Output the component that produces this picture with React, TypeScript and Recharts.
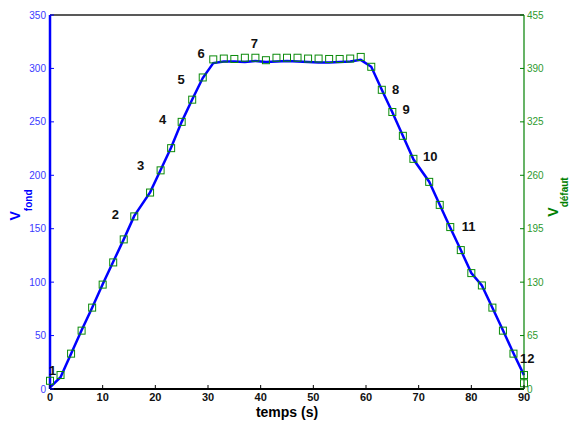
import { ComposedChart, Line, Scatter, XAxis, YAxis, ReferenceDot, Label } from 'recharts'

const fondTimes = [0, 2, 4, 6, 8, 10, 12, 14, 16, 19, 21, 23, 25, 27, 29, 31, 33, 35, 37, 39, 41, 43, 45, 47, 49, 51, 53, 55, 57, 59, 61, 63, 65, 67, 69, 72, 74, 76, 78, 80, 82, 84, 86, 88, 90]
const fondValues = [1.6, 11, 33, 55, 76, 98, 119, 140, 162, 184, 205, 226, 250, 271, 291, 305, 306.5, 306.5, 306, 307, 306, 306.5, 307, 306.5, 306, 305.5, 305.5, 306, 306.5, 308, 301.5, 280, 259, 237, 215, 194, 172.5, 151, 130, 108.5, 97, 76, 55, 33.5, 13]

const defautTimes = [...fondTimes, 90]
const defautValues = [10, 17, 43, 71, 99, 127, 154, 182, 210, 239, 266, 293, 325, 352, 379, 401, 402, 401.5, 403, 403, 400, 403, 403, 403, 402, 402, 401.5, 401.5, 402, 404, 392, 364, 337, 308, 280, 252, 224, 197, 169, 141, 126, 99, 71, 43, 17, 7]

const labelTexts = ['1', '2', '3', '4', '5', '6', '7', '8', '9', '10', '11', '12']
const labelTimes = [0.5, 12.4, 17.2, 21.4, 24.9, 28.7, 38.8, 65.6, 67.6, 72.2, 79.5, 90.6]
const labelValues = [17, 163, 209, 252, 290, 314, 323.5, 280, 261.5, 217.5, 152.5, 28.5]

const xTicks = [0, 10, 20, 30, 40, 50, 60, 70, 80, 90]
const leftTicks = [0, 50, 100, 150, 200, 250, 300, 350]
const rightTicks = [0, 65, 130, 195, 260, 325, 390, 455]

const fondRows = fondTimes.map((t, i) => ({ t, fond: fondValues[i] }))
const defautRows = defautTimes.map((t, i) => ({ t, defaut: defautValues[i] }))

const FONT = '"Liberation Sans", Arial, sans-serif'
const BLUE = '#0000ff'
const GREEN = '#008000'

function BottomTick(props: any) {
  const { x, y, payload } = props
  return (
    <g>
      <line x1={x} x2={x} y1={y} y2={y - 4} stroke="#000" strokeWidth={1} />
      <text x={x} y={y + 12} textAnchor="middle" fontSize={11} fontWeight={700} fill="#111" fontFamily={FONT}>
        {payload.value}
      </text>
    </g>
  )
}

function TopTick(props: any) {
  const { x, y } = props
  return <line x1={x} x2={x} y1={y} y2={y + 4} stroke="#000" strokeWidth={1} />
}

function LeftTick(props: any) {
  const { x, y, payload } = props
  return (
    <g>
      <line x1={x} x2={x + 4} y1={y} y2={y} stroke={BLUE} strokeWidth={1} />
      <text x={x - 4} y={y + 3.5} textAnchor="end" fontSize={10} fill="#3a3aff" fontFamily={FONT}>
        {payload.value}
      </text>
    </g>
  )
}

function RightTick(props: any) {
  const { x, y, payload } = props
  return (
    <g>
      <line x1={x} x2={x - 4} y1={y} y2={y} stroke={GREEN} strokeWidth={1} />
      <text x={x + 3} y={y + 3.5} textAnchor="start" fontSize={10} fill="#2e9a2e" fontFamily={FONT}>
        {payload.value}
      </text>
    </g>
  )
}

function Square(props: any) {
  const { cx, cy } = props
  if (cx == null || cy == null) return null
  return <rect x={cx - 3.5} y={cy - 3.5} width={7} height={7} fill="none" stroke="#0a8a0a" strokeWidth={1} />
}

export default function App() {
  return (
    <div style={{ position: 'absolute', left: 0, top: 0, background: '#fff' }}>
      <ComposedChart width={569} height={425} margin={{ top: 14, right: 0, bottom: 0, left: 1 }}>
        <XAxis
          dataKey="t"
          type="number"
          domain={[0, 90]}
          ticks={xTicks}
          height={36}
          tickSize={0}
          tickMargin={0}
          tickLine={false}
          tick={<BottomTick />}
          axisLine={{ stroke: '#000', strokeWidth: 2 }}
        >
          <Label
            content={(p: any) => {
              const vb = p.viewBox
              return (
                <text x={vb.x + vb.width / 2} y={vb.y + 28} textAnchor="middle" fontSize={14} fontWeight={700} fill="#000" fontFamily={FONT}>
                  temps (s)
                </text>
              )
            }}
          />
        </XAxis>
        <XAxis
          xAxisId="top"
          orientation="top"
          dataKey="t"
          type="number"
          domain={[0, 90]}
          ticks={xTicks}
          height={1}
          tickSize={0}
          tickMargin={0}
          tickLine={false}
          tick={<TopTick />}
          axisLine={{ stroke: '#222', strokeWidth: 1.5 }}
        />
        <YAxis
          yAxisId="left"
          type="number"
          domain={[0, 350]}
          ticks={leftTicks}
          width={49}
          tickSize={0}
          tickMargin={0}
          tickLine={false}
          tick={<LeftTick />}
          axisLine={{ stroke: BLUE, strokeWidth: 2.5 }}
        >
          <Label
            content={(p: any) => {
              const vb = p.viewBox
              return (
                <text
                  transform={`translate(${vb.x + 19}, ${vb.y + 190}) rotate(-90)`}
                  textAnchor="middle"
                  fill={BLUE}
                  fontWeight={700}
                  fontFamily={FONT}
                >
                  <tspan fontSize={14}>V</tspan>
                  <tspan fontSize={10} dy={12}>fond</tspan>
                </text>
              )
            }}
          />
        </YAxis>
        <YAxis
          yAxisId="right"
          orientation="right"
          type="number"
          domain={[0, 455]}
          ticks={rightTicks}
          width={45}
          tickSize={0}
          tickMargin={0}
          tickLine={false}
          tick={<RightTick />}
          axisLine={{ stroke: GREEN, strokeWidth: 1.2 }}
        >
          <Label
            content={(p: any) => {
              const vb = p.viewBox
              return (
                <text
                  transform={`translate(${vb.x + 34}, ${vb.y + 182}) rotate(-90)`}
                  textAnchor="middle"
                  fill={GREEN}
                  fontWeight={700}
                  fontFamily={FONT}
                >
                  <tspan fontSize={14}>V</tspan>
                  <tspan fontSize={10} dy={10}>défaut</tspan>
                </text>
              )
            }}
          />
        </YAxis>
        <Line
          data={fondRows}
          yAxisId="left"
          dataKey="fond"
          type="linear"
          stroke={BLUE}
          strokeWidth={2.5}
          dot={false}
          isAnimationActive={false}
        />
        <Scatter data={defautRows} yAxisId="right" dataKey="defaut" shape={<Square />} isAnimationActive={false} />
        {labelTexts.map((text, i) => (
          <ReferenceDot
            key={text}
            yAxisId="left"
            x={labelTimes[i]}
            y={labelValues[i]}
            ifOverflow="visible"
            shape={(p: any) => (
              <text x={p.cx} y={p.cy + 4.5} textAnchor="middle" fontSize={13} fontWeight={700} fill="#111" fontFamily={FONT}>
                {text}
              </text>
            )}
          />
        ))}
      </ComposedChart>
    </div>
  )
}
